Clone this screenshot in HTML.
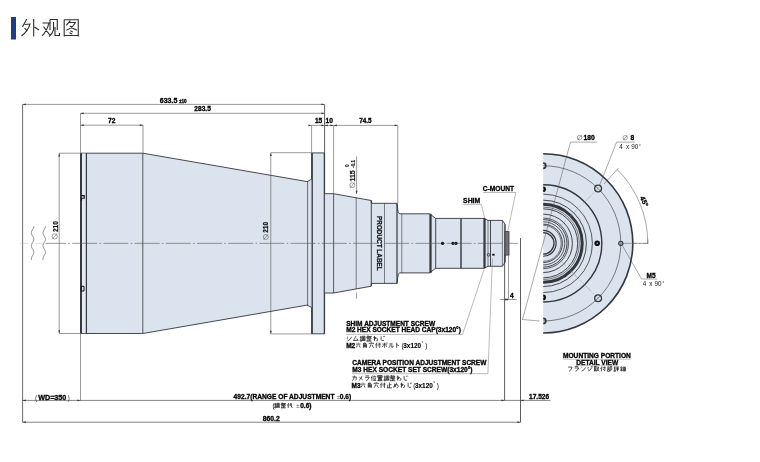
<!DOCTYPE html>
<html><head><meta charset="utf-8"><style>
html,body{margin:0;padding:0;background:#fff;}
svg{display:block;will-change:transform;font-family:"Liberation Sans",sans-serif;}
</style></head><body>
<svg width="760" height="462" viewBox="0 0 760 462">
<rect width="760" height="462" fill="#fff"/>
<rect x="11" y="17" width="5" height="22.5" fill="#1f3c86"/>
<path transform="translate(21,18.2) scale(0.92)" d="M6.2,0.9 L1.6,9.6 M4.1,6.8 L9.8,6.3 Q8,14 0.5,19.3 M3.8,10.7 L6.5,13.4 M13.8,0.9 L13.8,20 M14.7,9.6 L19.6,12.8" fill="none" stroke="#2e2e2e" stroke-width="1.2" stroke-linecap="butt"/>
<path transform="translate(41,18.2) scale(0.92)" d="M1.6,5.2 L8.7,5.2 Q6.5,14 1.1,19.3 M2.7,9 Q6,14 9.8,18.3 M9.8,1.4 L9.8,12.8 M9.8,1.4 L17.7,1.4 L17.7,12.8 M13.6,4.1 L13.6,12.8 Q12.5,17 8.7,19.9 M15.2,9.6 L15.2,18.8 L20.1,18.8 L20.1,16.1" fill="none" stroke="#2e2e2e" stroke-width="1.2" stroke-linecap="butt"/>
<path transform="translate(63,18.2) scale(0.92)" d="M1.3,1.4 L1.3,19.9 M1.3,1.7 L16.6,1.7 L16.6,19.9 M1.3,18.8 L16.6,18.8 M8,2.6 L3.6,7.8 M6,4.6 L13.4,4.6 Q10.5,10.5 3.6,13 M7.4,8.4 Q11,12 15,13 M8,13.6 L10.6,14.9 M7,15.9 L10,17.3" fill="none" stroke="#2e2e2e" stroke-width="1.2" stroke-linecap="butt"/>
<path d="M80.9,153.2 L142.8,153.2 L307.2,181.6 L311.6,179.2 L311.6,152.9 L324.6,152.9 L324.6,193.7 L333.6,193.7 L371.3,200.5 L371.3,203.3 L397.0,203.3 L398.2,212.5 L399.8,213.8 L429.6,213.8 L435.7,218.4 L484.0,218.4 L488.0,220.4 L502.4,220.4 L505.0,224.3 L505.0,262.4 L502.4,266.3 L488.0,266.3 L484.0,268.3 L435.7,268.3 L429.6,272.9 L399.8,272.9 L398.2,274.2 L397.0,283.4 L371.3,283.4 L371.3,286.2 L333.6,293.0 L324.6,293.0 L324.6,333.8 L311.6,333.8 L311.6,307.5 L307.2,305.1 L142.8,333.5 L80.9,333.5 Z" fill="#dae3ee" stroke="#33363a" stroke-width="0.9" stroke-linejoin="round"/>
<rect x="82" y="153.6" width="3.8" height="179.5" fill="#e4eaf3"/>
<line x1="81.0" y1="153.2" x2="81.0" y2="333.5" stroke="#33363a" stroke-width="1.9" />
<line x1="86.4" y1="153.2" x2="86.4" y2="333.5" stroke="#33363a" stroke-width="1.2" />
<line x1="142.8" y1="153.2" x2="142.8" y2="333.5" stroke="#33363a" stroke-width="0.8" />
<line x1="307.6" y1="181.0" x2="307.6" y2="305.7" stroke="#33363a" stroke-width="0.7" />
<line x1="312.2" y1="152.9" x2="312.2" y2="333.79999999999995" stroke="#33363a" stroke-width="1.3" />
<line x1="324.3" y1="152.9" x2="324.3" y2="333.79999999999995" stroke="#33363a" stroke-width="1.1" />
<line x1="333.6" y1="193.7" x2="333.6" y2="293.0" stroke="#33363a" stroke-width="0.8" />
<line x1="356.2" y1="197.8" x2="356.2" y2="288.9" stroke="#33363a" stroke-width="0.6" />
<line x1="371.3" y1="200.5" x2="371.3" y2="286.2" stroke="#33363a" stroke-width="0.9" />
<line x1="384.5" y1="203.3" x2="384.5" y2="283.4" stroke="#33363a" stroke-width="0.6" />
<line x1="397.0" y1="203.3" x2="397.0" y2="283.4" stroke="#33363a" stroke-width="1.2" />
<line x1="401.8" y1="213.8" x2="401.8" y2="272.9" stroke="#33363a" stroke-width="0.6" />
<line x1="430.5" y1="213.8" x2="430.5" y2="272.9" stroke="#33363a" stroke-width="2.2" />
<line x1="435.7" y1="218.4" x2="435.7" y2="268.29999999999995" stroke="#33363a" stroke-width="0.9" />
<line x1="461.0" y1="218.4" x2="461.0" y2="268.29999999999995" stroke="#33363a" stroke-width="1.4" />
<line x1="484.5" y1="218.4" x2="484.5" y2="268.29999999999995" stroke="#33363a" stroke-width="2.2" />
<line x1="488" y1="220.4" x2="488" y2="266.29999999999995" stroke="#33363a" stroke-width="0.6" />
<line x1="490.5" y1="220.4" x2="490.5" y2="266.29999999999995" stroke="#33363a" stroke-width="0.9" />
<line x1="502.4" y1="220.4" x2="502.4" y2="266.29999999999995" stroke="#33363a" stroke-width="0.6" />
<line x1="505" y1="224.3" x2="505" y2="262.4" stroke="#33363a" stroke-width="0.9" />
<rect x="505" y="231.6" width="4" height="23.5" fill="#70757c" stroke="#33363a" stroke-width="0.8"/>
<circle cx="442.6" cy="243.35" r="1.7" fill="#111"/>
<circle cx="453.0" cy="243.35" r="1.7" fill="#111"/><circle cx="456.0" cy="243.35" r="1.7" fill="#111"/>
<rect x="492.2" y="253.8" width="2.4" height="1.8" fill="#111"/>
<circle cx="488.6" cy="254.8" r="1.4" fill="none" stroke="#222" stroke-width="0.7"/>
<path d="M81.5,195.6 H84.2 V198.2 H81.5 M81.5,198.2 V200.8" fill="none" stroke="#111" stroke-width="1.1"/>
<path d="M81.2,286.3 H84.0 V291.0 H81.2 Z" fill="none" stroke="#111" stroke-width="1.0"/>
<text transform="translate(377.2,216) rotate(90)" font-size="6.4" font-weight="bold" fill="#111" stroke="#111" stroke-width="0.22">PRODUCT LABEL</text>
<line x1="22.6" y1="104.4" x2="324.6" y2="104.4" stroke="#555" stroke-width="0.6" />
<line x1="22.6" y1="104.4" x2="22.6" y2="422.2" stroke="#444" stroke-width="0.8" />
<line x1="80.5" y1="113.3" x2="324.6" y2="113.3" stroke="#555" stroke-width="0.6" />
<line x1="80.5" y1="113.3" x2="80.5" y2="153" stroke="#555" stroke-width="0.6" />
<line x1="80.5" y1="125.2" x2="143" y2="125.2" stroke="#555" stroke-width="0.6" />
<line x1="143" y1="125.2" x2="143" y2="153" stroke="#555" stroke-width="0.6" />
<line x1="324.6" y1="104.4" x2="324.6" y2="153" stroke="#333" stroke-width="0.8" />
<line x1="311.6" y1="125.4" x2="397.8" y2="125.4" stroke="#555" stroke-width="0.6" />
<line x1="311.6" y1="125.4" x2="311.6" y2="153" stroke="#555" stroke-width="0.6" />
<line x1="333.6" y1="125.4" x2="333.6" y2="194" stroke="#555" stroke-width="0.6" />
<line x1="397.8" y1="125.4" x2="397.8" y2="203" stroke="#555" stroke-width="0.6" />
<text x="159.7" y="103.2" font-size="7.1" font-weight="bold" text-anchor="start" fill="#000" stroke="#000" stroke-width="0.3" >633.5</text>
<text x="179" y="103.1" font-size="4.6" font-weight="bold" text-anchor="start" fill="#000" stroke="#000" stroke-width="0.3" >±10</text>
<text x="194.3" y="111.0" font-size="6.6" font-weight="bold" text-anchor="start" fill="#000" stroke="#000" stroke-width="0.3" >283.5</text>
<text x="108" y="123.3" font-size="6.7" font-weight="bold" text-anchor="start" fill="#000" stroke="#000" stroke-width="0.3" >72</text>
<text x="314.9" y="123.2" font-size="6.6" font-weight="bold" text-anchor="start" fill="#000" stroke="#000" stroke-width="0.3" >15</text>
<text x="325.6" y="123.2" font-size="6.6" font-weight="bold" text-anchor="start" fill="#000" stroke="#000" stroke-width="0.3" >10</text>
<text x="359.2" y="123.2" font-size="6.4" font-weight="bold" text-anchor="start" fill="#000" stroke="#000" stroke-width="0.3" >74.5</text>
<line x1="59.2" y1="153.2" x2="80.5" y2="153.2" stroke="#555" stroke-width="0.6" />
<line x1="59.2" y1="333.5" x2="80.5" y2="333.5" stroke="#555" stroke-width="0.6" />
<line x1="59.2" y1="153.2" x2="59.2" y2="333.5" stroke="#555" stroke-width="0.6" />
<text transform="translate(57.7,232.0) rotate(-90) scale(0.9,1)" font-size="7.2" font-weight="bold" fill="#111" stroke="#111" stroke-width="0.22">210</text>
<g transform="translate(54.7,236.4) rotate(0)"><circle r="2.6" fill="none" stroke="#333" stroke-width="0.45"/><line x1="-2.34" y1="2.86" x2="2.34" y2="-2.86" stroke="#333" stroke-width="0.45"/></g>
<path d="M33.85,226.30 L33.76,227.10 L33.49,227.90 L33.10,228.70 L32.63,229.50 L32.16,230.30 L31.75,231.10 L31.47,231.90 L31.35,232.70 L31.42,233.50 L31.66,234.30 L32.05,235.10 L32.51,235.90 L32.99,236.70 L33.41,237.50 L33.71,238.30 L33.84,239.10 L33.80,239.90 L33.57,240.70 L33.21,241.50 L32.75,242.30 L32.27,243.10 L31.84,243.90 L31.52,244.70 L31.36,245.50 L31.39,246.30 L31.59,247.10 L31.94,247.90 L32.39,248.70 L32.87,249.50 L33.31,250.30 L33.65,251.10 L33.83,251.90 L33.83,252.70 L33.65,253.50 L33.31,254.30 L32.87,255.10 L32.39,255.90 L31.94,256.70 L31.59,257.50 L31.39,258.30 L31.36,259.10 L31.52,259.90" fill="none" stroke="#555" stroke-width="0.65"/>
<path d="M45.45,226.30 L45.36,227.10 L45.09,227.90 L44.70,228.70 L44.23,229.50 L43.76,230.30 L43.35,231.10 L43.07,231.90 L42.95,232.70 L43.02,233.50 L43.26,234.30 L43.65,235.10 L44.11,235.90 L44.59,236.70 L45.01,237.50 L45.31,238.30 L45.44,239.10 L45.40,239.90 L45.17,240.70 L44.81,241.50 L44.35,242.30 L43.87,243.10 L43.44,243.90 L43.12,244.70 L42.96,245.50 L42.99,246.30 L43.19,247.10 L43.54,247.90 L43.99,248.70 L44.47,249.50 L44.91,250.30 L45.25,251.10 L45.43,251.90 L45.43,252.70 L45.25,253.50 L44.91,254.30 L44.47,255.10 L43.99,255.90 L43.54,256.70 L43.19,257.50 L42.99,258.30 L42.96,259.10 L43.12,259.90" fill="none" stroke="#555" stroke-width="0.65"/>
<line x1="270.8" y1="152.7" x2="311.6" y2="152.7" stroke="#555" stroke-width="0.6" />
<line x1="270.8" y1="333.9" x2="311.6" y2="333.9" stroke="#555" stroke-width="0.6" />
<line x1="270.8" y1="152.7" x2="270.8" y2="333.9" stroke="#555" stroke-width="0.6" />
<text transform="translate(268.3,232.8) rotate(-90) scale(0.9,1)" font-size="7.2" font-weight="bold" fill="#111" stroke="#111" stroke-width="0.22">210</text>
<g transform="translate(265.8,237.0) rotate(0)"><circle r="2.5" fill="none" stroke="#333" stroke-width="0.45"/><line x1="-2.25" y1="2.75" x2="2.25" y2="-2.75" stroke="#333" stroke-width="0.45"/></g>
<line x1="356.6" y1="156.4" x2="356.6" y2="194" stroke="#555" stroke-width="0.6" />
<line x1="356.6" y1="292.7" x2="356.6" y2="298.5" stroke="#555" stroke-width="0.6" />
<text transform="translate(355.2,181.6) rotate(-90)" font-size="7.0" font-weight="bold" fill="#111" stroke="#111" stroke-width="0.22">115</text>
<g transform="translate(352.3,185.2) rotate(0)"><circle r="2.5" fill="none" stroke="#333" stroke-width="0.45"/><line x1="-2.25" y1="2.75" x2="2.25" y2="-2.75" stroke="#333" stroke-width="0.45"/></g>
<text transform="translate(355.0,167.8) rotate(-90)" font-size="4.6" font-weight="bold" fill="#111" stroke="#111" stroke-width="0.15">-0.1</text>
<text transform="translate(349.2,167.0) rotate(-90)" font-size="4.6" font-weight="bold" fill="#111" stroke="#111" stroke-width="0.15">0</text>
<line x1="80.5" y1="333.5" x2="80.5" y2="400.4" stroke="#555" stroke-width="0.6" />
<line x1="22.6" y1="400.4" x2="504.6" y2="400.4" stroke="#333" stroke-width="0.6" />
<line x1="504.6" y1="400.4" x2="550.5" y2="400.4" stroke="#333" stroke-width="0.6" />
<line x1="22.6" y1="422.2" x2="520.5" y2="422.2" stroke="#333" stroke-width="0.6" />
<line x1="504.6" y1="255" x2="504.6" y2="400.4" stroke="#333" stroke-width="0.8" />
<line x1="520.5" y1="238" x2="520.5" y2="422.2" stroke="#333" stroke-width="0.8" />
<line x1="508.5" y1="255" x2="508.5" y2="299.5" stroke="#555" stroke-width="0.6" />
<line x1="499.7" y1="299.5" x2="516.5" y2="299.5" stroke="#555" stroke-width="0.6" />
<text x="510" y="298.2" font-size="6.6" font-weight="bold" text-anchor="start" fill="#000" stroke="#000" stroke-width="0.3" >4</text>
<text x="35.0" y="399.6" font-size="7.0" font-weight="normal" text-anchor="start" fill="#444" >(</text>
<text x="38.2" y="399.5" font-size="7.2" font-weight="bold" text-anchor="start" fill="#000" stroke="#000" stroke-width="0.3" >WD=350</text>
<text x="67.4" y="399.6" font-size="7.0" font-weight="normal" text-anchor="start" fill="#444" >)</text>
<text x="233.6" y="399.1" font-size="6.65" font-weight="bold" text-anchor="start" fill="#000" stroke="#000" stroke-width="0.3" >492.7(RANGE OF ADJUSTMENT</text>
<text x="336.8" y="399.1" font-size="6.0" font-weight="normal" text-anchor="start" fill="#666" >±</text>
<text x="339.8" y="399.1" font-size="6.65" font-weight="bold" text-anchor="start" fill="#000" stroke="#000" stroke-width="0.3" >0.6)</text>
<text x="262.7" y="420.6" font-size="6.8" font-weight="bold" text-anchor="start" fill="#000" stroke="#000" stroke-width="0.3" >860.2</text>
<text x="529" y="399.1" font-size="6.6" font-weight="bold" text-anchor="start" fill="#000" stroke="#000" stroke-width="0.3" >17.526</text>
<line x1="45.5" y1="243.35" x2="518" y2="243.35" stroke="#555" stroke-width="0.6" stroke-dasharray="25,2.3,1.6,2.3" stroke-dashoffset="4.50"/>
<line x1="20" y1="243.35" x2="45.5" y2="243.35" stroke="#bbb" stroke-width="0.5" stroke-dasharray="8,3,1.5,3"/>
<line x1="543" y1="243.35" x2="648" y2="243.35" stroke="#666" stroke-width="0.5" stroke-dasharray="14,2,2,2"/>
<polygon points="22.6,104.4 25.8,103.5 25.8,105.30000000000001" fill="#333"/>
<polygon points="324.6,104.4 321.40000000000003,103.5 321.40000000000003,105.30000000000001" fill="#333"/>
<polygon points="80.5,113.3 83.7,112.39999999999999 83.7,114.2" fill="#333"/>
<polygon points="324.6,113.3 321.40000000000003,112.39999999999999 321.40000000000003,114.2" fill="#333"/>
<polygon points="80.5,125.2 83.7,124.3 83.7,126.10000000000001" fill="#333"/>
<polygon points="143,125.2 139.8,124.3 139.8,126.10000000000001" fill="#333"/>
<polygon points="311.6,125.4 308.40000000000003,124.5 308.40000000000003,126.30000000000001" fill="#333"/>
<polygon points="324.6,125.4 327.8,124.5 327.8,126.30000000000001" fill="#333"/>
<polygon points="324.6,125.4 321.40000000000003,124.5 321.40000000000003,126.30000000000001" fill="#333"/>
<polygon points="333.6,125.4 336.8,124.5 336.8,126.30000000000001" fill="#333"/>
<polygon points="333.6,125.4 330.40000000000003,124.5 330.40000000000003,126.30000000000001" fill="#333"/>
<polygon points="397.8,125.4 394.6,124.5 394.6,126.30000000000001" fill="#333"/>
<polygon points="59.2,153.2 58.300000000000004,156.39999999999998 60.1,156.39999999999998" fill="#333"/>
<polygon points="59.2,333.5 58.300000000000004,330.3 60.1,330.3" fill="#333"/>
<polygon points="270.8,152.7 269.90000000000003,155.89999999999998 271.7,155.89999999999998" fill="#333"/>
<polygon points="270.8,333.9 269.90000000000003,330.7 271.7,330.7" fill="#333"/>
<polygon points="356.6,194 355.70000000000005,190.8 357.5,190.8" fill="#333"/>
<polygon points="22.6,400.4 25.8,399.5 25.8,401.29999999999995" fill="#333"/>
<polygon points="80.5,400.4 77.3,399.5 77.3,401.29999999999995" fill="#333"/>
<polygon points="504.6,400.4 501.40000000000003,399.5 501.40000000000003,401.29999999999995" fill="#333"/>
<polygon points="520.5,400.4 523.7,399.5 523.7,401.29999999999995" fill="#333"/>
<polygon points="22.6,422.2 25.8,421.3 25.8,423.09999999999997" fill="#333"/>
<polygon points="520.5,422.2 517.3,421.3 517.3,423.09999999999997" fill="#333"/>
<polygon points="508.5,299.5 505.3,298.6 505.3,300.4" fill="#333"/>
<polygon points="504.6,299.5 507.8,298.6 507.8,300.4" fill="#333"/>
<text x="482.8" y="191.1" font-size="6.65" font-weight="bold" text-anchor="start" fill="#000" stroke="#000" stroke-width="0.3" >C-MOUNT</text>
<line x1="483.3" y1="192.5" x2="515.8" y2="192.5" stroke="#777" stroke-width="0.5" />
<line x1="515.8" y1="192.5" x2="507.8" y2="231" stroke="#777" stroke-width="0.5" />
<text x="463.1" y="203" font-size="6.8" font-weight="bold" text-anchor="start" fill="#000" stroke="#000" stroke-width="0.3" >SHIM</text>
<line x1="463.5" y1="204.4" x2="481.4" y2="204.4" stroke="#777" stroke-width="0.5" />
<line x1="481.4" y1="204.4" x2="484.6" y2="217.8" stroke="#777" stroke-width="0.5" />
<text x="346.2" y="325.9" font-size="6.55" font-weight="bold" text-anchor="start" fill="#000" stroke="#000" stroke-width="0.3" >SHIM ADJUSTMENT SCREW</text>
<text x="346.2" y="332.2" font-size="6.55" font-weight="bold" text-anchor="start" fill="#000" stroke="#000" stroke-width="0.3" >M2 HEX SOCKET HEAD CAP(3x120°)</text>
<line x1="346" y1="334.4" x2="462.6" y2="334.4" stroke="#777" stroke-width="0.5" />
<line x1="462.6" y1="334.4" x2="484" y2="269.6" stroke="#777" stroke-width="0.5" />
<text x="352.3" y="365.1" font-size="6.55" font-weight="bold" text-anchor="start" fill="#000" stroke="#000" stroke-width="0.3" >CAMERA POSITION ADJUSTMENT SCREW</text>
<text x="352.3" y="371.7" font-size="6.6" font-weight="bold" text-anchor="start" fill="#000" stroke="#000" stroke-width="0.3" >M3 HEX SOCKET SET SCREW(3x120°)</text>
<line x1="352" y1="373.7" x2="487.9" y2="373.7" stroke="#777" stroke-width="0.5" />
<line x1="487.9" y1="373.7" x2="492.5" y2="258.4" stroke="#777" stroke-width="0.5" />
<text x="596.9" y="358.2" font-size="6.6" font-weight="bold" text-anchor="middle" fill="#000" stroke="#000" stroke-width="0.3" >MOUNTING PORTION</text>
<line x1="562.9" y1="359.3" x2="630.8" y2="359.3" stroke="#999" stroke-width="0.5" />
<text x="597.2" y="364.7" font-size="6.6" font-weight="bold" text-anchor="middle" fill="#000" stroke="#000" stroke-width="0.3" >DETAIL VIEW</text>
<line x1="575.8" y1="365.3" x2="617.8" y2="365.3" stroke="#999" stroke-width="0.5" />
<g fill="none" stroke="#1a1a1a" stroke-width="1.3" stroke-linecap="butt"><path transform="translate(346.40,335.70) scale(0.570)" d="M1,2L3,3 M0.8,5L2.8,6 M2,9.3Q6.5,8 9.2,2"/><path transform="translate(353.00,335.70) scale(0.570)" d="M5,0.8Q3,5 1,8.5L8.5,8 M6.8,5L9.2,9.2"/><path transform="translate(359.60,335.70) scale(0.570)" d="M1,1.5H3.5 M0.5,3H4 M1,4.5H3.5 M1,6H3.5 M1,7.5V9.5H3.5V7.5H1 M5,1V9.5 M5,1H9.5V9.5 M6,3H8.5 M7.2,2V5 M6,5H8.5 M6,6.5V8.5H8.5V6.5H6"/><path transform="translate(366.20,335.70) scale(0.570)" d="M1,1H5 M3,0V4 M1,2V4H5V2 M6,0.5L5.5,3 M6,1.5H9.5 M8.5,1.5L6,4.5 M6.5,2.5L9.5,4.5 M1,5.5H9 M5,5.5V9.5 M5,7.5H8 M2,7V9.5 M0.5,9.5H9.5"/><path transform="translate(372.80,335.70) scale(0.570)" d="M3,0.5V9.5 M1,3H5Q1,9 3.5,6Q7,2 8.5,6Q9,9.5 6,9"/><path transform="translate(379.40,335.70) scale(0.570)" d="M3,1V7Q3,9.5 8,8.5 M7,1L7.5,2.5 M8.5,0.5L9,2"/></g>
<text x="346.2" y="348.0" font-size="6.5" font-weight="bold" text-anchor="start" fill="#000" stroke="#000" stroke-width="0.3" >M2</text>
<g fill="none" stroke="#1a1a1a" stroke-width="1.3" stroke-linecap="butt"><path transform="translate(355.40,342.40) scale(0.570)" d="M5,0.5L5.5,2 M1,3H9 M3.5,5L1.5,9 M6.5,5L8.5,9"/><path transform="translate(362.00,342.40) scale(0.570)" d="M4,0.5L2,3 M3,1.5H6.5L5.5,3 M2.5,3V9.5 M2.5,3H8V9.5 M2.5,5.5H8 M2.5,7.5H8 M5.2,3V9"/><path transform="translate(368.60,342.40) scale(0.570)" d="M5,0V1.5 M1,3V1.5H9V3 M4,3.5Q3.5,7 1,9.5 M6,4Q7,8 9.5,9.5"/><path transform="translate(375.20,342.40) scale(0.570)" d="M3,0.5Q2,3 0.5,5 M2,3V9.5 M4,3H9.5 M8,0.5V9L7,8.5 M5,5L6,7"/><path transform="translate(381.80,342.40) scale(0.570)" d="M1,3H9 M5,0.5V9L4,8.5 M3,5L1,8 M7,5L9,8 M8,0.5L8.5,1.5 M9.5,0.5L9.8,1.5"/><path transform="translate(388.40,342.40) scale(0.570)" d="M3,1V5Q3,8 0.5,9.5 M6,1V9L9.5,6.5"/><path transform="translate(395.00,342.40) scale(0.570)" d="M3,0.5V9.5 M3,4L7,6"/></g>
<text x="401.5" y="348.0" font-size="6.4" font-weight="normal" text-anchor="start" fill="#000" >(</text>
<text x="403.3" y="348.0" font-size="6.4" font-weight="bold" text-anchor="start" fill="#000" stroke="#000" stroke-width="0.1" >3x120</text>
<text x="421.5" y="345.3" font-size="4.5" font-weight="normal" text-anchor="start" fill="#000" >°</text>
<text x="425.2" y="348.0" font-size="6.4" font-weight="normal" text-anchor="start" fill="#000" >)</text>
<g fill="none" stroke="#1a1a1a" stroke-width="1.3" stroke-linecap="butt"><path transform="translate(351.80,375.30) scale(0.570)" d="M1,3H8Q8,9 6,9 M4.5,0.5Q4,7 1,9.5"/><path transform="translate(358.13,375.30) scale(0.570)" d="M7,1Q5,7 1,9.5 M2,3L8,8"/><path transform="translate(364.46,375.30) scale(0.570)" d="M2,1H8 M1,3.5H8.5Q7,8 3,9.5"/><path transform="translate(370.79,375.30) scale(0.570)" d="M3,0.5Q2,3 0.5,5 M2,3V9.5 M6.5,0.5V2 M4,2.5H9.5 M5,4L6,8 M8.5,4L7.5,8 M4,9H9.5"/><path transform="translate(377.12,375.30) scale(0.570)" d="M1,0.5V3H9V0.5H1 M3.5,0.5V3 M6.5,0.5V3 M1,4H9 M5,3V5 M2.5,5V9.5 M2.5,5.5H7.5V9 M2.5,7H7.5 M2.5,8.3H7.5 M0.5,9.5H9.5"/><path transform="translate(383.45,375.30) scale(0.570)" d="M1,1.5H3.5 M0.5,3H4 M1,4.5H3.5 M1,6H3.5 M1,7.5V9.5H3.5V7.5H1 M5,1V9.5 M5,1H9.5V9.5 M6,3H8.5 M7.2,2V5 M6,5H8.5 M6,6.5V8.5H8.5V6.5H6"/><path transform="translate(389.78,375.30) scale(0.570)" d="M1,1H5 M3,0V4 M1,2V4H5V2 M6,0.5L5.5,3 M6,1.5H9.5 M8.5,1.5L6,4.5 M6.5,2.5L9.5,4.5 M1,5.5H9 M5,5.5V9.5 M5,7.5H8 M2,7V9.5 M0.5,9.5H9.5"/><path transform="translate(396.11,375.30) scale(0.570)" d="M3,0.5V9.5 M1,3H5Q1,9 3.5,6Q7,2 8.5,6Q9,9.5 6,9"/><path transform="translate(402.44,375.30) scale(0.570)" d="M3,1V7Q3,9.5 8,8.5 M7,1L7.5,2.5 M8.5,0.5L9,2"/></g>
<text x="351.6" y="388.0" font-size="6.5" font-weight="bold" text-anchor="start" fill="#000" stroke="#000" stroke-width="0.3" >M3</text>
<g fill="none" stroke="#1a1a1a" stroke-width="1.3" stroke-linecap="butt"><path transform="translate(360.20,382.40) scale(0.570)" d="M5,0.5L5.5,2 M1,3H9 M3.5,5L1.5,9 M6.5,5L8.5,9"/><path transform="translate(366.80,382.40) scale(0.570)" d="M4,0.5L2,3 M3,1.5H6.5L5.5,3 M2.5,3V9.5 M2.5,3H8V9.5 M2.5,5.5H8 M2.5,7.5H8 M5.2,3V9"/><path transform="translate(373.40,382.40) scale(0.570)" d="M5,0V1.5 M1,3V1.5H9V3 M4,3.5Q3.5,7 1,9.5 M6,4Q7,8 9.5,9.5"/><path transform="translate(380.00,382.40) scale(0.570)" d="M3,0.5Q2,3 0.5,5 M2,3V9.5 M4,3H9.5 M8,0.5V9L7,8.5 M5,5L6,7"/><path transform="translate(386.60,382.40) scale(0.570)" d="M5,0.5V9.5 M5,4H8.5 M2,4V9.5 M0.5,9.5H9.5"/><path transform="translate(393.20,382.40) scale(0.570)" d="M2,2L4,8 M6,0.5Q5,6 1,9Q0,6 4,4Q9,3 9,7Q8,9.5 6,9.5"/><path transform="translate(399.80,382.40) scale(0.570)" d="M3,0.5V9.5 M1,3H5Q1,9 3.5,6Q7,2 8.5,6Q9,9.5 6,9"/><path transform="translate(406.40,382.40) scale(0.570)" d="M3,1V7Q3,9.5 8,8.5 M7,1L7.5,2.5 M8.5,0.5L9,2"/></g>
<text x="413.2" y="388.0" font-size="6.4" font-weight="normal" text-anchor="start" fill="#000" >(</text>
<text x="415.0" y="388.0" font-size="6.4" font-weight="bold" text-anchor="start" fill="#000" stroke="#000" stroke-width="0.1" >3x120</text>
<text x="433.2" y="385.3" font-size="4.5" font-weight="normal" text-anchor="start" fill="#000" >°</text>
<text x="436.8" y="388.0" font-size="6.4" font-weight="normal" text-anchor="start" fill="#000" >)</text>
<text x="272.6" y="408.2" font-size="6.4" font-weight="normal" text-anchor="start" fill="#000" >(</text>
<g fill="none" stroke="#1a1a1a" stroke-width="1.5" stroke-linecap="butt"><path transform="translate(274.20,402.80) scale(0.530)" d="M1,1.5H3.5 M0.5,3H4 M1,4.5H3.5 M1,6H3.5 M1,7.5V9.5H3.5V7.5H1 M5,1V9.5 M5,1H9.5V9.5 M6,3H8.5 M7.2,2V5 M6,5H8.5 M6,6.5V8.5H8.5V6.5H6"/><path transform="translate(280.70,402.80) scale(0.530)" d="M1,1H5 M3,0V4 M1,2V4H5V2 M6,0.5L5.5,3 M6,1.5H9.5 M8.5,1.5L6,4.5 M6.5,2.5L9.5,4.5 M1,5.5H9 M5,5.5V9.5 M5,7.5H8 M2,7V9.5 M0.5,9.5H9.5"/><path transform="translate(287.20,402.80) scale(0.530)" d="M3,0.5Q2,3 0.5,5 M2,3V9.5 M4,4H9 M6.5,0.5Q7,7 9.5,9.5 M8,1L9,2"/></g>
<text x="296.3" y="408.0" font-size="6.0" font-weight="normal" text-anchor="start" fill="#555" >±</text>
<text x="300.2" y="408.2" font-size="6.6" font-weight="bold" text-anchor="start" fill="#000" stroke="#000" stroke-width="0.3" >0.6)</text>
<g fill="none" stroke="#1a1a1a" stroke-width="1.3" stroke-linecap="butt"><path transform="translate(567.30,366.00) scale(0.560)" d="M1.5,2H8.5Q8,7 3,9.5"/><path transform="translate(573.90,366.00) scale(0.560)" d="M2,1H8 M1,3.5H8.5Q7,8 3,9.5"/><path transform="translate(580.50,366.00) scale(0.560)" d="M1.5,2L3,3 M2,9Q7,8 9,2.5"/><path transform="translate(587.10,366.00) scale(0.560)" d="M1,2L3,3 M1,5L3,6 M2,9Q6,8 9,2 M7.5,0.5L8,2 M9,0.3L9.5,1.5"/><path transform="translate(593.70,366.00) scale(0.560)" d="M0.5,1H5 M1.5,1V9 M4,1V9.5 M1.5,3.5H4 M1.5,6H4 M0.5,9L5,8 M5.5,2H9Q8,7 5.5,9.5 M6,3.5Q7,7 9.5,9.5"/><path transform="translate(600.30,366.00) scale(0.560)" d="M3,0.5Q2,3 0.5,5 M2,3V9.5 M4,3H9.5 M8,0.5V9L7,8.5 M5,5L6,7"/><path transform="translate(606.90,366.00) scale(0.560)" d="M2.5,0.5V1.5 M0.5,2H5 M1.5,3L2,4.5 M4,3L3.5,4.5 M0.5,5H5 M1,6.5V9.5H4.5V6.5H1 M6,1V9.5 M6,1H9Q7.5,3.5 9,5Q9.5,7 7,7"/><path transform="translate(613.50,366.00) scale(0.560)" d="M1,1.5H3.5 M0.5,3H4 M1,4.5H3.5 M1,6H3.5 M1,7.5V9.5H3.5V7.5H1 M5.5,0.5L6.5,1.5 M8.5,0.5L7.5,1.5 M5,2.5H9.5 M5,4.5H9.5 M5,6.5H9.5 M7.2,2.5V9.5"/><path transform="translate(620.10,366.00) scale(0.560)" d="M2.5,0.5L1,3L3.5,4 M3.5,2L1,6H4 M2.5,6V9.5 M1,7.5L0.5,9 M3.5,7.5L4,9 M5.5,2V9H9.5V2H5.5 M5.5,5.5H9.5 M7.5,2V9"/></g>
<clipPath id="half"><rect x="543.2" y="100" width="200" height="300"/></clipPath>
<g clip-path="url(#half)">
<circle cx="543.2" cy="243.35" r="89.6" fill="#dae3ee" stroke="#33363a" stroke-width="1.6"/>
<circle cx="543.2" cy="243.35" r="10.8" fill="none" stroke="#33363a" stroke-width="1.3"/>
<circle cx="543.2" cy="243.35" r="12.9" fill="none" stroke="#33363a" stroke-width="1.2"/>
<circle cx="543.2" cy="243.35" r="18.0" fill="none" stroke="#33363a" stroke-width="0.6"/>
<circle cx="543.2" cy="243.35" r="19.2" fill="none" stroke="#33363a" stroke-width="0.9"/>
<circle cx="543.2" cy="243.35" r="21.6" fill="none" stroke="#33363a" stroke-width="0.8"/>
<circle cx="543.2" cy="243.35" r="23.8" fill="none" stroke="#33363a" stroke-width="0.9"/>
<circle cx="543.2" cy="243.35" r="25.3" fill="none" stroke="#33363a" stroke-width="0.8"/>
<circle cx="543.2" cy="243.35" r="29.2" fill="none" stroke="#33363a" stroke-width="0.9"/>
<circle cx="543.2" cy="243.35" r="34.5" fill="none" stroke="#33363a" stroke-width="0.9"/>
<circle cx="543.2" cy="243.35" r="36.2" fill="none" stroke="#33363a" stroke-width="0.6"/>
<circle cx="543.2" cy="243.35" r="39.0" fill="none" stroke="#33363a" stroke-width="3.0"/>
<circle cx="543.2" cy="243.35" r="43.2" fill="none" stroke="#33363a" stroke-width="0.9"/>
<circle cx="543.2" cy="243.35" r="49.2" fill="none" stroke="#33363a" stroke-width="0.8"/>
<circle cx="543.2" cy="243.35" r="58.6" fill="none" stroke="#33363a" stroke-width="1.4"/>
<circle cx="543.2" cy="243.35" r="77.6" fill="none" stroke="#333" stroke-width="0.6"/>
<line x1="557.3" y1="229.2" x2="599.8" y2="186.8" stroke="#888" stroke-width="0.45" stroke-dasharray="12,2,2,2"/>
<line x1="557.3" y1="257.5" x2="599.8" y2="299.9" stroke="#888" stroke-width="0.45" stroke-dasharray="12,2,2,2"/>
<circle cx="543.2" cy="165.8" r="2.6" fill="none" stroke="#33363a" stroke-width="1.7"/>
<circle cx="598.1" cy="188.5" r="3.4" fill="none" stroke="#33363a" stroke-width="1.35"/>
<circle cx="598.1" cy="298.2" r="3.4" fill="none" stroke="#33363a" stroke-width="1.35"/>
<circle cx="543.2" cy="320.9" r="2.6" fill="none" stroke="#33363a" stroke-width="1.7"/>
<circle cx="620.8" cy="243.35" r="2.1" fill="none" stroke="#33363a" stroke-width="1.2"/>
<circle cx="543.2" cy="189.3" r="2.8" fill="#111"/><circle cx="543.2" cy="189.3" r="0.7" fill="#ccc"/>
<circle cx="597.2" cy="243.3" r="2.8" fill="#111"/><circle cx="597.2" cy="243.3" r="0.7" fill="#ccc"/>
<circle cx="543.2" cy="297.4" r="2.8" fill="#111"/><circle cx="543.2" cy="297.4" r="0.7" fill="#ccc"/>
</g>
<line x1="570.5" y1="142.1" x2="597.5" y2="142.1" stroke="#555" stroke-width="0.5" />
<line x1="570.5" y1="142.1" x2="522.5" y2="319.5" stroke="#555" stroke-width="0.5" />
<line x1="522.5" y1="319.5" x2="539.6" y2="321" stroke="#555" stroke-width="0.5" />
<g transform="translate(579.6,137.6) rotate(0)"><circle r="2.3" fill="none" stroke="#333" stroke-width="0.45"/><line x1="-2.07" y1="2.53" x2="2.07" y2="-2.53" stroke="#333" stroke-width="0.45"/></g>
<text x="583.5" y="139.8" font-size="6.7" font-weight="bold" text-anchor="start" fill="#000" stroke="#000" stroke-width="0.3" >180</text>
<line x1="616.6" y1="142.1" x2="635" y2="142.1" stroke="#555" stroke-width="0.5" />
<line x1="616.6" y1="142.1" x2="599.5" y2="185.5" stroke="#555" stroke-width="0.5" />
<g transform="translate(625.2,137.7) rotate(0)"><circle r="2.2" fill="none" stroke="#333" stroke-width="0.45"/><line x1="-1.98" y1="2.42" x2="1.98" y2="-2.42" stroke="#333" stroke-width="0.45"/></g>
<text x="630.5" y="139.8" font-size="6.7" font-weight="bold" text-anchor="start" fill="#000" stroke="#000" stroke-width="0.3" >8</text>
<text x="619.3" y="149.0" font-size="6.3" font-weight="normal" text-anchor="start" fill="#111" >4</text>
<text x="625.9" y="149.0" font-size="6.3" font-weight="normal" text-anchor="start" fill="#111" >x</text>
<text x="631.2" y="149.0" font-size="6.3" font-weight="normal" text-anchor="start" fill="#111" >90</text>
<text x="639.0" y="148.4" font-size="4.5" font-weight="normal" text-anchor="start" fill="#222" >°</text>
<text x="642.6999999999999" y="285.9" font-size="6.3" font-weight="normal" text-anchor="start" fill="#111" >4</text>
<text x="649.3" y="285.9" font-size="6.3" font-weight="normal" text-anchor="start" fill="#111" >x</text>
<text x="654.6" y="285.9" font-size="6.3" font-weight="normal" text-anchor="start" fill="#111" >90</text>
<text x="662.4" y="285.3" font-size="4.5" font-weight="normal" text-anchor="start" fill="#222" >°</text>
<path d="M617.2,169.4 A104.6,104.6 0 0 1 647.8,243.35" fill="none" stroke="#555" stroke-width="0.5"/>
<line x1="604" y1="184" x2="618.6633693121129" y2="167.88663068788713" stroke="#555" stroke-width="0.5" />
<line x1="621" y1="243.35" x2="648.3000000000001" y2="243.35" stroke="#555" stroke-width="0.5" />
<line x1="647.8000000000001" y1="243.35" x2="647.8000000000001" y2="239.35" stroke="#555" stroke-width="0.5" />
<text transform="translate(639.8,197.6) rotate(65)" font-size="7.0" font-weight="bold" fill="#000" stroke="#000" stroke-width="0.3">45°</text>
<line x1="622" y1="245" x2="641.6" y2="279" stroke="#555" stroke-width="0.5" />
<line x1="641.6" y1="279" x2="657.1" y2="279" stroke="#555" stroke-width="0.5" />
<text x="646.6" y="278" font-size="6.5" font-weight="bold" text-anchor="start" fill="#000" stroke="#000" stroke-width="0.3" >M5</text>
</svg></body></html>
